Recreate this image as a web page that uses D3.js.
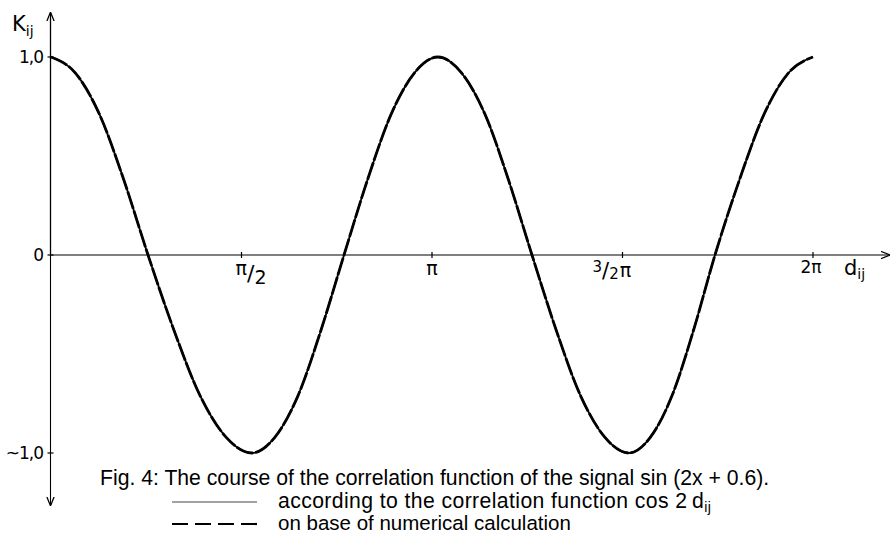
<!DOCTYPE html>
<html>
<head>
<meta charset="utf-8">
<script src="https://cdn.jsdelivr.net/npm/d3@7"></script>
<style>
  html, body { margin: 0; padding: 0; background: #fff; }
  svg { display: block; }
  .hand { font-family: "DejaVu Sans", sans-serif; fill: #000; }
  .cap { font-family: "Liberation Sans", Arial, sans-serif; fill: #000; }
</style>
</head>
<body>
<svg id="chart" width="895" height="555"></svg>
<script>
// Shift d_ij (radians) and correlation K_ij of the two curves
const dValues = [
  0.000, 0.200, 0.400, 0.600, 0.800, 1.014, 1.229, 1.443, 1.657,
  1.847, 2.037, 2.226, 2.416, 2.610, 2.804, 2.997, 3.191,
  3.385, 3.579, 3.772, 3.966, 4.166, 4.366, 4.566, 4.766,
  4.943, 5.121, 5.298, 5.475, 5.677, 5.879, 6.081, 6.283
];
// cos 2 d_ij (theoretical)
const kTheory = [
  1.00, 0.92, 0.71, 0.38, 0.00, -0.38, -0.71, -0.92, -1.00,
  -0.92, -0.71, -0.38, 0.00, 0.38, 0.71, 0.92, 1.00,
  0.92, 0.71, 0.38, 0.00, -0.38, -0.71, -0.92, -1.00,
  -0.92, -0.71, -0.38, 0.00, 0.38, 0.71, 0.92, 1.00
];
// numerical calculation
const kNumeric = [
  1.00, 0.92, 0.71, 0.38, 0.00, -0.38, -0.71, -0.92, -1.00,
  -0.92, -0.71, -0.38, 0.00, 0.38, 0.71, 0.92, 1.00,
  0.92, 0.71, 0.38, 0.00, -0.38, -0.71, -0.92, -1.00,
  -0.92, -0.71, -0.38, 0.00, 0.38, 0.71, 0.92, 1.00
];
const xTickValues = [Math.PI / 2, Math.PI, 1.5 * Math.PI, 2 * Math.PI];
const yTickValues = [1, 0, -1];
const yTickLabels = ["1,0", "0", "~1,0"];
const captionText = "Fig. 4: The course of the correlation function of the signal sin (2x + 0.6).";
const legendTheory = "according to the correlation function cos 2\u2009d";
const legendNumeric = "on base of numerical calculation";

const svg = d3.select("#chart");

const x = d3.scaleLinear().domain([0, 2 * Math.PI]).range([51, 813]);
const y = d3.scaleLinear().domain([-1, 1]).range([453, 57]);

const axisX0 = 50.5;
const axisY0 = y(0);

// arrow heads
const defs = svg.append("defs");
defs.append("marker")
  .attr("id", "arrow")
  .attr("viewBox", "0 0 10 10")
  .attr("refX", 9).attr("refY", 5)
  .attr("markerWidth", 9).attr("markerHeight", 9)
  .attr("markerUnits", "userSpaceOnUse")
  .attr("orient", "auto")
  .append("path")
  .attr("d", "M0,1 L10,5 L0,9")
  .attr("fill", "none").attr("stroke", "#000").attr("stroke-width", 1.4);

// vertical axis (upwards and downwards)
svg.append("line")
  .attr("x1", axisX0).attr("x2", axisX0)
  .attr("y1", axisY0).attr("y2", 13)
  .attr("stroke", "#000").attr("stroke-width", 1.3)
  .attr("marker-end", "url(#arrow)");
svg.append("line")
  .attr("x1", axisX0).attr("x2", axisX0)
  .attr("y1", axisY0).attr("y2", 505)
  .attr("stroke", "#000").attr("stroke-width", 1.1)
  .attr("marker-end", "url(#arrow)");

// horizontal axis
svg.append("line")
  .attr("x1", axisX0).attr("x2", 889)
  .attr("y1", axisY0).attr("y2", axisY0)
  .attr("stroke", "#000").attr("stroke-width", 1.1)
  .attr("marker-end", "url(#arrow)");

// y ticks and labels
const yt = svg.append("g");
yTickValues.forEach((v, i) => {
  yt.append("line")
    .attr("x1", axisX0 - 3).attr("x2", axisX0 + 3)
    .attr("y1", y(v)).attr("y2", y(v))
    .attr("stroke", "#000").attr("stroke-width", 1.2);
  yt.append("text").attr("class", "hand")
    .attr("x", 43).attr("y", y(v) + 6)
    .attr("text-anchor", "end")
    .attr("font-size", 17)
    .attr("letter-spacing", -1)
    .text(yTickLabels[i]);
});

// x ticks
const xt = svg.append("g");
xTickValues.forEach(v => {
  xt.append("line")
    .attr("x1", x(v)).attr("x2", x(v))
    .attr("y1", axisY0 - 3).attr("y2", axisY0 + 3)
    .attr("stroke", "#000").attr("stroke-width", 1.2);
});

// x tick labels (hand lettered)
function piHalf(g, cx) {
  const t = g.append("text").attr("class", "hand").attr("font-size", 19)
    .attr("x", cx - 6).attr("y", axisY0 + 20);
  t.append("tspan").text("\u03c0");
  t.append("tspan").attr("dx", 0).attr("dy", 6).attr("font-size", 22).text("/");
  t.append("tspan").attr("dy", 3).attr("font-size", 19).text("2");
}
piHalf(xt, x(xTickValues[0]));
xt.append("text").attr("class", "hand").attr("font-size", 19)
  .attr("x", x(xTickValues[1])).attr("y", axisY0 + 20)
  .attr("text-anchor", "middle").text("\u03c0");
(function () {
  const t = xt.append("text").attr("class", "hand").attr("font-size", 19)
    .attr("x", x(xTickValues[2]) - 30).attr("y", axisY0 + 21);
  t.append("tspan").attr("font-size", 15).attr("dy", -4).text("3");
  t.append("tspan").attr("font-size", 21).attr("dy", 6).text("/");
  t.append("tspan").attr("font-size", 15).attr("dy", 1).text("2");
  t.append("tspan").attr("font-size", 19).attr("dy", -2).attr("dx", 1).text("\u03c0");
})();
xt.append("text").attr("class", "hand").attr("font-size", 17)
  .attr("x", x(xTickValues[3]) - 2).attr("y", axisY0 + 18)
  .attr("text-anchor", "middle").text("2\u03c0");

// axis names
const dName = svg.append("text").attr("class", "hand").attr("font-size", 21)
  .attr("x", 844).attr("y", axisY0 + 20);
dName.append("tspan").text("d");
dName.append("tspan").attr("font-size", 14).attr("dy", 4).text("ij");

const kName = svg.append("text").attr("class", "hand").attr("font-size", 21)
  .attr("x", 12).attr("y", 31);
kName.append("tspan").text("K");
kName.append("tspan").attr("font-size", 14).attr("dy", 5).text("ij");

// curves
const pts = (ks) => dValues.map((d, i) => [d, ks[i]]);
const line = d3.line()
  .x(d => x(d[0]))
  .y(d => y(d[1]))
  .curve(d3.curveMonotoneX);

svg.append("path")
  .attr("d", line(pts(kTheory)))
  .attr("fill", "none").attr("stroke", "#000").attr("stroke-width", 1.8);
svg.append("path")
  .attr("d", line(pts(kNumeric)))
  .attr("fill", "none").attr("stroke", "#000").attr("stroke-width", 2.8)
  .attr("stroke-dasharray", "18,2");

// caption and legend
svg.append("text").attr("class", "cap").attr("font-size", 21.2)
  .attr("x", 100).attr("y", 485).text(captionText);

svg.append("line")
  .attr("x1", 172).attr("x2", 257).attr("y1", 502).attr("y2", 502)
  .attr("stroke", "#444").attr("stroke-width", 1.2);
const lt = svg.append("text").attr("class", "cap").attr("font-size", 21.2)
  .attr("x", 278).attr("y", 508)
  .attr("letter-spacing", 0.4);
lt.append("tspan").text(legendTheory);
lt.append("tspan").attr("font-size", 14).attr("dy", 4).text("ij");

svg.append("line")
  .attr("x1", 172).attr("x2", 257).attr("y1", 524).attr("y2", 524)
  .attr("stroke", "#000").attr("stroke-width", 2.2)
  .attr("stroke-dasharray", "16,7");
svg.append("text").attr("class", "cap").attr("font-size", 20.5)
  .attr("x", 278).attr("y", 530).text(legendNumeric);
</script>
</body>
</html>
